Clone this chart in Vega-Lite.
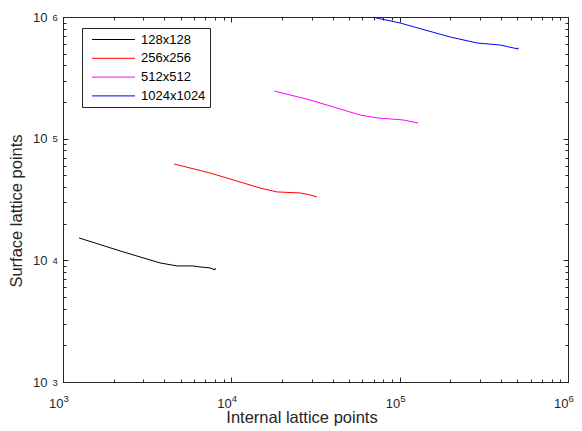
{
  "$schema": "https://vega.github.io/schema/vega-lite/v6.json",
  "width": 505,
  "height": 365,
  "autosize": "none",
  "padding": {"left": 63, "top": 17, "right": 14, "bottom": 49},
  "background": "white",
  "config": {
    "font": "Liberation Sans",
    "view": {"stroke": "#262626", "strokeWidth": 1},
    "axis": {"grid": false, "domainColor": "#262626", "tickColor": "#262626", "labelColor": "#262626", "titleColor": "#262626", "labelFont": "Liberation Sans", "titleFont": "Liberation Sans", "titleFontWeight": "normal", "labelFlush": false, "labelOverlap": false}
  },
  "data": {"values": [
    {"s": "128x128", "o": 1, "x": 1245, "y": 15280},
    {"s": "128x128", "o": 2, "x": 2182, "y": 11950},
    {"s": "128x128", "o": 3, "x": 3771, "y": 9520},
    {"s": "128x128", "o": 4, "x": 4757, "y": 8995},
    {"s": "128x128", "o": 5, "x": 5921, "y": 8995},
    {"s": "128x128", "o": 6, "x": 6517, "y": 8826},
    {"s": "128x128", "o": 7, "x": 7470, "y": 8660},
    {"s": "128x128", "o": 8, "x": 8003, "y": 8340},
    {"s": "128x128", "o": 9, "x": 8003, "y": 8660},
    {"s": "256x256", "o": 1, "x": 4565, "y": 61970},
    {"s": "256x256", "o": 2, "x": 7470, "y": 52260},
    {"s": "256x256", "o": 3, "x": 14810, "y": 39340},
    {"s": "256x256", "o": 4, "x": 18680, "y": 36480},
    {"s": "256x256", "o": 5, "x": 25600, "y": 35800},
    {"s": "256x256", "o": 6, "x": 29360, "y": 34470},
    {"s": "256x256", "o": 7, "x": 32300, "y": 33190},
    {"s": "512x512", "o": 1, "x": 17930, "y": 246600},
    {"s": "512x512", "o": 2, "x": 29360, "y": 208000},
    {"s": "512x512", "o": 3, "x": 58170, "y": 156500},
    {"s": "512x512", "o": 4, "x": 73390, "y": 148000},
    {"s": "512x512", "o": 5, "x": 104700, "y": 142500},
    {"s": "512x512", "o": 6, "x": 128600, "y": 134600},
    {"s": "1024x1024", "o": 1, "x": 68550, "y": 1000000},
    {"s": "1024x1024", "o": 2, "x": 100560, "y": 892600},
    {"s": "1024x1024", "o": 3, "x": 199300, "y": 684900},
    {"s": "1024x1024", "o": 4, "x": 288300, "y": 611600},
    {"s": "1024x1024", "o": 5, "x": 395000, "y": 588800},
    {"s": "1024x1024", "o": 6, "x": 505200, "y": 545800},
    {"s": "1024x1024", "o": 7, "x": 505200, "y": 560000}
  ]},
  "resolve": {"axis": {"x": "independent", "y": "independent"}},
  "layer": [
    {
      "mark": {"type": "line", "strokeWidth": 1, "clip": true},
      "encoding": {
        "x": {"field": "x", "type": "quantitative", "scale": {"type": "log", "domain": [1000, 1000000], "nice": false},
              "axis": {"orient": "bottom", "values": [1000, 10000, 100000, 1000000], "ticks": false, "tickSize": 0, "labelPadding": 15, "labelAlign": "right", "labelFontSize": 13, "labelExpr": "'10'",
                       "title": "Internal lattice points", "titleFontSize": 16.5, "titleX": 238.5, "titleY": 40, "titleBaseline": "alphabetic", "titleAlign": "center"}},
        "y": {"field": "y", "type": "quantitative", "scale": {"type": "log", "domain": [1000, 1000000], "nice": false},
              "axis": {"orient": "left", "values": [1000, 10000, 100000, 1000000], "ticks": false, "tickSize": 0, "labelPadding": 16, "labelAlign": "right", "labelDy": 1.5, "labelFontSize": 13, "labelExpr": "'10'",
                       "title": "Surface lattice points", "titleFontSize": 16.5, "titleX": -42, "titleY": 193.5, "titleAngle": -90, "titleBaseline": "alphabetic", "titleAlign": "center"}},
        "color": {"field": "s", "type": "nominal",
                  "scale": {"domain": ["128x128", "256x256", "512x512", "1024x1024"], "range": ["#000000", "#ff0000", "#ff00ff", "#0000ff"]},
                  "legend": {"orient": "none", "legendX": 19, "legendY": 11, "title": null, "symbolType": "M-3.07,0H3.07", "symbolSize": 196, "symbolStrokeWidth": 1, "symbolOffset": 20,
                             "labelFontSize": 13, "labelColor": "#000000", "labelOffset": 20,
                             "strokeColor": "#262626", "fillColor": "white", "padding": 4, "rowPadding": 3.8}},
        "order": {"field": "o", "type": "quantitative"},
        "detail": {"field": "s"}
      }
    },
    {
      "mark": {"type": "line", "opacity": 0},
      "encoding": {
        "x": {"field": "x", "type": "quantitative", "axis": {"orient": "bottom", "title": null, "domain": false, "ticks": false, "tickSize": 0, "values": [1000, 10000, 100000, 1000000], "labelPadding": 11, "labelAlign": "left", "labelFontSize": 9.5,
              "labelExpr": "'\u00a0\u00a0' + (datum.value < 5000 ? '3' : datum.value < 50000 ? '4' : datum.value < 500000 ? '5' : '6')"}},
        "y": {"field": "y", "type": "quantitative", "axis": {"orient": "left", "title": null, "domain": false, "ticks": false, "tickSize": 0, "values": [1000, 10000, 100000, 1000000], "labelPadding": 11, "labelAlign": "left", "labelDy": -2.5, "labelFontSize": 9.5,
              "labelExpr": "datum.value < 5000 ? '3' : datum.value < 50000 ? '4' : datum.value < 500000 ? '5' : '6'"}},
        "detail": {"field": "s"}
      }
    },
    {
      "mark": {"type": "line", "opacity": 0},
      "encoding": {
        "x": {"field": "x", "type": "quantitative", "axis": {"orient": "bottom", "title": null, "labels": false, "domain": false, "tickSize": -5, "values": [1000, 10000, 100000, 1000000]}},
        "y": {"field": "y", "type": "quantitative", "axis": {"orient": "left", "title": null, "labels": false, "domain": false, "tickSize": -5, "values": [1000, 10000, 100000, 1000000]}},
        "detail": {"field": "s"}
      }
    },
    {
      "mark": {"type": "line", "opacity": 0},
      "encoding": {
        "x": {"field": "x", "type": "quantitative", "axis": {"orient": "bottom", "title": null, "labels": false, "domain": false, "tickSize": -3,
              "values": [2000,3000,4000,5000,6000,7000,8000,9000,20000,30000,40000,50000,60000,70000,80000,90000,200000,300000,400000,500000,600000,700000,800000,900000]}},
        "y": {"field": "y", "type": "quantitative", "axis": {"orient": "left", "title": null, "labels": false, "domain": false, "tickSize": -3,
              "values": [2000,3000,4000,5000,6000,7000,8000,9000,20000,30000,40000,50000,60000,70000,80000,90000,200000,300000,400000,500000,600000,700000,800000,900000]}},
        "detail": {"field": "s"}
      }
    },
    {
      "mark": {"type": "line", "opacity": 0},
      "encoding": {
        "x": {"field": "x", "type": "quantitative", "axis": {"orient": "top", "title": null, "labels": false, "tickSize": -5, "values": [1000, 10000, 100000, 1000000]}},
        "y": {"field": "y", "type": "quantitative", "axis": {"orient": "right", "title": null, "labels": false, "tickSize": -5, "values": [1000, 10000, 100000, 1000000]}},
        "detail": {"field": "s"}
      }
    },
    {
      "mark": {"type": "line", "opacity": 0},
      "encoding": {
        "x": {"field": "x", "type": "quantitative", "axis": {"orient": "top", "title": null, "labels": false, "domain": false, "tickSize": -3,
              "values": [2000,3000,4000,5000,6000,7000,8000,9000,20000,30000,40000,50000,60000,70000,80000,90000,200000,300000,400000,500000,600000,700000,800000,900000]}},
        "y": {"field": "y", "type": "quantitative", "axis": {"orient": "right", "title": null, "labels": false, "domain": false, "tickSize": -3,
              "values": [2000,3000,4000,5000,6000,7000,8000,9000,20000,30000,40000,50000,60000,70000,80000,90000,200000,300000,400000,500000,600000,700000,800000,900000]}},
        "detail": {"field": "s"}
      }
    }
  ]
}
